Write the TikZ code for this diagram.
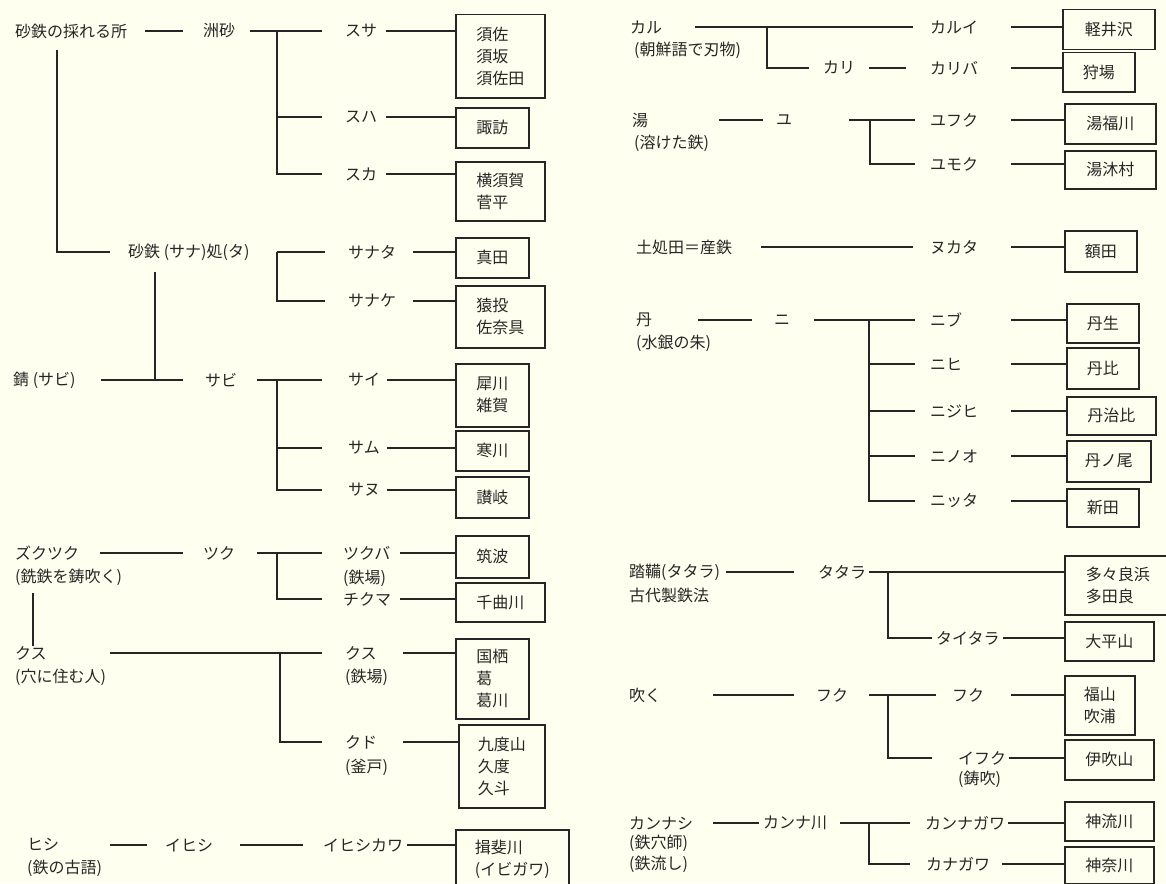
\documentclass[tikz,border=0pt]{standalone}
\usepackage{fontspec}
\setmainfont{Noto Sans CJK JP}
\newfontfamily\jpfont{Noto Sans CJK JP}
\definecolor{bgc}{RGB}{255,255,240}
\definecolor{ink}{RGB}{38,38,38}
\tikzset{
  lbl/.style={anchor=west, inner sep=0pt, text=ink, font=\jpfont\fontsize{16}{22}\selectfont},
  bx/.style={draw=ink, line width=1.5pt, anchor=north west, inner sep=0pt, align=left, text=ink, font=\jpfont\fontsize{16}{22}\selectfont},
  conn/.style={draw=ink, line width=1.3pt},
}
\begin{document}
\begin{tikzpicture}[x=1pt, y=-1pt]
\fill[bgc] (0,0) rectangle (1166,883);
\useasboundingbox (0,0) rectangle (1166,883);

% ---------------- LEFT: row A ----------------
\node[lbl] (r1) at (15,31) {砂鉄の採れる所};
\node[lbl] (s1) at (203,31) {洲砂};
\node[lbl] (suSa) at (345,31) {スサ};
\node[lbl] (suHa) at (345,117) {スハ};
\node[lbl] (suKa) at (345,174) {スカ};
\node[bx, minimum width=89pt, minimum height=83pt] (bSusa) at (455,14) {須佐\\須坂\\須佐田};
\node[bx, minimum width=73pt, minimum height=40pt] (bSuwa) at (455,107) {諏訪};
\node[bx, minimum width=89pt, minimum height=59pt] (bYoko) at (455,161) {横須賀\\菅平};
\coordinate (j1) at (277,31);
\draw[conn] ([xshift=18pt]r1.east) -- ([xshift=-20pt]s1.west);
\draw[conn] ([xshift=15pt]s1.east) -- ([xshift=-23pt]suSa.west);
\draw[conn] (j1) |- ([xshift=-23pt]suKa.west);
\draw[conn] (j1 |- suHa.west) -- ([xshift=-23pt]suHa.west);
\draw[conn] ([xshift=9pt]suSa.east) -- (suSa.east -| bSusa.west);
\draw[conn] ([xshift=9pt]suHa.east) -- (suHa.east -| bSuwa.west);
\draw[conn] ([xshift=9pt]suKa.east) -- (suKa.east -| bYoko.west);

% ---------------- LEFT: row B ----------------
\coordinate (v1) at (57,50);
\node[lbl] (r2) at (128,252) {砂鉄 (サナ)処(タ)};
\draw[conn] (v1) |- ([xshift=-18pt]r2.west);
\node[lbl] (sanaTa) at (348,252) {サナタ};
\node[lbl] (sanaKe) at (348,301) {サナケ};
\coordinate (j2) at (277,252);
\draw[conn] (j2) -- ([xshift=-23pt]sanaTa.west);
\draw[conn] (j2) |- ([xshift=-23pt]sanaKe.west);
\node[bx, minimum width=73pt, minimum height=40pt] (bSanada) at (455,237) {真田};
\node[bx, minimum width=89pt, minimum height=62pt] (bSanage) at (455,285) {猿投\\佐奈具};
\draw[conn] ([xshift=17pt]sanaTa.east) -- (sanaTa.east -| bSanada.west);
\draw[conn] ([xshift=17pt]sanaKe.east) -- (sanaKe.east -| bSanage.west);

% ---------------- LEFT: row C ----------------
\coordinate (v2) at (155,272);
\node[lbl] (r3) at (13,380) {錆 (サビ)};
\node[lbl] (sabi) at (205,380) {サビ};
\draw[conn] ([xshift=25pt]r3.east) -- ([xshift=-22pt]sabi.west);
\draw[conn] (v2) -- (v2 |- sabi.west);
\coordinate (j3) at (277,380);
\node[lbl] (sai) at (348,380) {サイ};
\node[lbl] (samu) at (348,448) {サム};
\node[lbl] (sanu) at (348,490) {サヌ};
\draw[conn] ([xshift=20pt]sabi.east) -- ([xshift=-26pt]sai.west);
\draw[conn] (j3) |- ([xshift=-26pt]sanu.west);
\draw[conn] (j3 |- samu.west) -- ([xshift=-26pt]samu.west);
\node[bx, minimum width=73pt, minimum height=63pt] (bSai) at (455,363) {犀川\\雑賀};
\node[bx, minimum width=73pt, minimum height=40pt] (bSamu) at (455,430) {寒川};
\node[bx, minimum width=73pt, minimum height=41pt] (bSanu) at (455,476) {讃岐};
\draw[conn] ([xshift=7pt]sai.east) -- (sai.east -| bSai.west);
\draw[conn] ([xshift=7pt]samu.east) -- (samu.east -| bSamu.west);
\draw[conn] ([xshift=7pt]sanu.east) -- (sanu.east -| bSanu.west);

% ---------------- LEFT: row D ----------------
\node[lbl] (r4) at (15,553) {ズクツク};
\node[lbl] (r4b) at (15,577) {(銑鉄を鋳吹く)};
\node[lbl] (tsuku) at (203,553) {ツク};
\coordinate (j4) at (277,553);
\node[lbl] (tsukuba) at (343,553) {ツクバ};
\node[lbl] (tsukubab) at (343,578) {(鉄場)};
\node[lbl] (chikuma) at (343,599) {チクマ};
\draw[conn] ([xshift=21pt]r4.east) -- ([xshift=-20pt]tsuku.west);
\draw[conn] ([xshift=22pt]tsuku.east) -- ([xshift=-21pt]tsukuba.west);
\draw[conn] (j4) |- ([xshift=-21pt]chikuma.west);
\node[bx, minimum width=73pt, minimum height=42pt] (bTsukuba) at (455,535) {筑波};
\node[bx, minimum width=89pt, minimum height=39pt] (bChikuma) at (455,582) {千曲川};
\draw[conn] ([xshift=9pt]tsukuba.east) -- (tsukuba.east -| bTsukuba.west);
\draw[conn] ([xshift=9pt]chikuma.east) -- (chikuma.east -| bChikuma.west);

% ---------------- LEFT: row E ----------------
\coordinate (v3) at (33,593);
\node[lbl] (r5) at (15,653) {クス};
\node[lbl] (r5b) at (15,677) {(穴に住む人)};
\draw[conn] (v3) -- (v3 |- r5.north);
\node[lbl] (kusu) at (345,653) {クス};
\node[lbl] (kusub) at (345,677) {(鉄場)};
\node[lbl] (kudo) at (345,742) {クド};
\node[lbl] (kudob) at (345,767) {(釜戸)};
\coordinate (j5) at (280,653);
\draw[conn] ([xshift=63pt]r5.east) -- ([xshift=-23pt]kusu.west);
\draw[conn] (j5) |- ([xshift=-23pt]kudo.west);
\node[bx, minimum width=73pt, minimum height=80pt] (bKuzu) at (455,638) {国栖\\葛\\葛川};
\node[bx, minimum width=86pt, minimum height=83pt] (bKudo) at (458,724) {九度山\\久度\\久斗};
\draw[conn] ([xshift=26pt]kusu.east) -- (kusu.east -| bKuzu.west);
\draw[conn] ([xshift=26pt]kudo.east) -- (kudo.east -| bKudo.west);

% ---------------- LEFT: row F ----------------
\node[lbl] (r6) at (27,845) {ヒシ};
\node[lbl] (r6b) at (27,868) {(鉄の古語)};
\node[lbl] (ihishi) at (165,845) {イヒシ};
\node[lbl] (ihishikawa) at (323,845) {イヒシカワ};
\node[bx, minimum width=113pt, minimum height=60pt] (bIbi) at (455,829) {揖斐川\\(イビガワ)};
\draw[conn] ([xshift=51pt]r6.east) -- ([xshift=-18pt]ihishi.west);
\draw[conn] ([xshift=27pt]ihishi.east) -- ([xshift=-20pt]ihishikawa.west);
\draw[conn] ([xshift=4pt]ihishikawa.east) -- (ihishikawa.east -| bIbi.west);

% ---------------- RIGHT ----------------
\coordinate (lxR) at (1011,0);
% カル
\node[lbl] (r7) at (630,27) {カル};
\node[lbl] (r7b) at (634,50) {(朝鮮語で刃物)};
\node[lbl] (karui) at (930,27) {カルイ};
\node[lbl] (kari) at (823,68) {カリ};
\node[lbl] (kariba) at (930,68) {カリバ};
\coordinate (j7) at (767,27);
\draw[conn] ([xshift=33pt]r7.east) -- ([xshift=-17pt]karui.west);
\draw[conn] (j7) |- ([xshift=-14pt]kari.west);
\draw[conn] ([xshift=14pt]kari.east) -- ([xshift=-24pt]kariba.west);
\node[bx, minimum width=92pt, minimum height=40pt] (bKarui) at (1062,9) {軽井沢};
\node[bx, minimum width=72pt, minimum height=39pt] (bKariba) at (1062,52) {狩場};
\draw[conn] (karui.east -| lxR) -- (karui.east -| bKarui.west);
\draw[conn] (kariba.east -| lxR) -- (kariba.east -| bKariba.west);

% 湯
\node[lbl] (r8) at (632,120) {湯};
\node[lbl] (r8b) at (634,143) {(溶けた鉄)};
\node[lbl] (yu) at (776,120) {ユ};
\node[lbl] (yufuku) at (930,120) {ユフク};
\node[lbl] (yumoku) at (930,164) {ユモク};
\coordinate (j8) at (870,120);
\draw[conn] ([xshift=71pt]r8.east) -- ([xshift=-13pt]yu.west);
\draw[conn] ([xshift=57pt]yu.east) -- ([xshift=-15pt]yufuku.west);
\draw[conn] (j8) |- ([xshift=-15pt]yumoku.west);
\node[bx, minimum width=91pt, minimum height=40pt] (bYufuku) at (1064,103) {湯福川};
\node[bx, minimum width=91pt, minimum height=38pt] (bYumoku) at (1064,150) {湯沐村};
\draw[conn] (yufuku.east -| lxR) -- (yufuku.east -| bYufuku.west);
\draw[conn] (yumoku.east -| lxR) -- (yumoku.east -| bYumoku.west);

% 土処田
\node[lbl] (r9) at (636,247) {土処田＝産鉄};
\node[lbl] (nukata) at (930,247) {ヌカタ};
\node[bx, minimum width=72pt, minimum height=41pt] (bNukata) at (1064,230) {額田};
\draw[conn] ([xshift=29pt]r9.east) -- ([xshift=-17pt]nukata.west);
\draw[conn] (nukata.east -| lxR) -- (nukata.east -| bNukata.west);

% 丹
\node[lbl] (r10) at (636,320) {丹};
\node[lbl] (r10b) at (636,343) {(水銀の朱)};
\node[lbl] (ni) at (774,320) {ニ};
\node[lbl] (niBu) at (930,320) {ニブ};
\node[lbl] (niHi) at (930,364) {ニヒ};
\node[lbl] (niJiHi) at (930,411) {ニジヒ};
\node[lbl] (niNoO) at (930,456) {ニノオ};
\node[lbl] (niTta) at (930,501) {ニッタ};
\coordinate (j10) at (869,320);
\draw[conn] ([xshift=46pt]r10.east) -- ([xshift=-22pt]ni.west);
\draw[conn] ([xshift=24pt]ni.east) -- ([xshift=-15pt]niBu.west);
\draw[conn] (j10) |- ([xshift=-15pt]niTta.west);
\draw[conn] (j10 |- niHi.west) -- ([xshift=-15pt]niHi.west);
\draw[conn] (j10 |- niJiHi.west) -- ([xshift=-15pt]niJiHi.west);
\draw[conn] (j10 |- niNoO.west) -- ([xshift=-15pt]niNoO.west);
\node[bx, minimum width=72pt, minimum height=39pt] (bNiBu) at (1066,303) {丹生};
\node[bx, minimum width=72pt, minimum height=41pt] (bNiHi) at (1066,347) {丹比};
\node[bx, minimum width=89pt, minimum height=38pt] (bNiJiHi) at (1066,396) {丹治比};
\node[bx, minimum width=84pt, minimum height=41pt] (bNiNoO) at (1066,440) {丹ノ尾};
\node[bx, minimum width=72pt, minimum height=38pt] (bNiTta) at (1066,488) {新田};
\draw[conn] (niBu.east -| lxR) -- (niBu.east -| bNiBu.west);
\draw[conn] (niHi.east -| lxR) -- (niHi.east -| bNiHi.west);
\draw[conn] (niJiHi.east -| lxR) -- (niJiHi.east -| bNiJiHi.west);
\draw[conn] (niNoO.east -| lxR) -- (niNoO.east -| bNiNoO.west);
\draw[conn] (niTta.east -| lxR) -- (niTta.east -| bNiTta.west);

% 踏鞴
\node[lbl] (r11) at (629,572) {踏鞴(タタラ)};
\node[lbl] (r11b) at (629,595) {古代製鉄法};
\node[lbl] (tatara) at (818,572) {タタラ};
\node[lbl] (taitara) at (936,638) {タイタラ};
\coordinate (j11) at (888,572);
\node[bx, minimum width=106pt, minimum height=59pt] (bTatara) at (1064,555) {多々良浜\\多田良};
\node[bx, minimum width=89pt, minimum height=39pt] (bTaihei) at (1064,621) {大平山};
\draw[conn] ([xshift=6pt]r11.east) -- ([xshift=-24pt]tatara.west);
\draw[conn] ([xshift=3pt]tatara.east) -- (tatara.east -| bTatara.west);
\draw[conn] (j11) |- ([xshift=-4pt]taitara.west);
\draw[conn] ([xshift=3pt]taitara.east) -- (taitara.east -| bTaihei.west);

% 吹く
\node[lbl] (r12) at (629,695) {吹く};
\node[lbl] (fuku1) at (816,695) {フク};
\node[lbl] (fuku2) at (952,695) {フク};
\node[lbl] (ifuku) at (958,758) {イフク};
\node[lbl] (ifukub) at (958,779) {(鋳吹)};
\coordinate (j12) at (888,695);
\node[bx, minimum width=70pt, minimum height=59pt] (bFuku) at (1064,675) {福山\\吹浦};
\node[bx, minimum width=89pt, minimum height=40pt] (bIbuki) at (1064,739) {伊吹山};
\draw[conn] ([xshift=52pt]r12.east) -- ([xshift=-22pt]fuku1.west);
\draw[conn] ([xshift=21pt]fuku1.east) -- ([xshift=-16pt]fuku2.west);
\draw[conn] (j12) |- ([xshift=-26pt]ifuku.west);
\draw[conn] (fuku2.east -| lxR) -- (fuku2.east -| bFuku.west);
\draw[conn] ([xshift=3pt]ifuku.east) -- (ifuku.east -| bIbuki.west);

% カンナシ
\node[lbl] (r13) at (629,823) {カンナシ};
\node[lbl] (r13b) at (629,843) {(鉄穴師)};
\node[lbl] (r13c) at (629,864) {(鉄流し)};
\node[lbl] (kan1) at (763,823) {カンナ川};
\node[lbl] (kan2) at (925,823) {カンナガワ};
\node[lbl] (kana) at (926,864) {カナガワ};
\coordinate (j13) at (869,823);
\node[bx, minimum width=89pt, minimum height=39pt] (bKanna) at (1064,801) {神流川};
\node[bx, minimum width=89pt, minimum height=37pt] (bKana) at (1064,846) {神奈川};
\draw[conn] ([xshift=20pt]r13.east) -- ([xshift=-4pt]kan1.west);
\draw[conn] ([xshift=13pt]kan1.east) -- ([xshift=-15pt]kan2.west);
\draw[conn] (j13) |- ([xshift=-16pt]kana.west);
\draw[conn] ([xshift=3pt]kan2.east) -- (kan2.east -| bKanna.west);
\draw[conn] ([xshift=12pt]kana.east) -- (kana.east -| bKana.west);
\end{tikzpicture}
\end{document}
